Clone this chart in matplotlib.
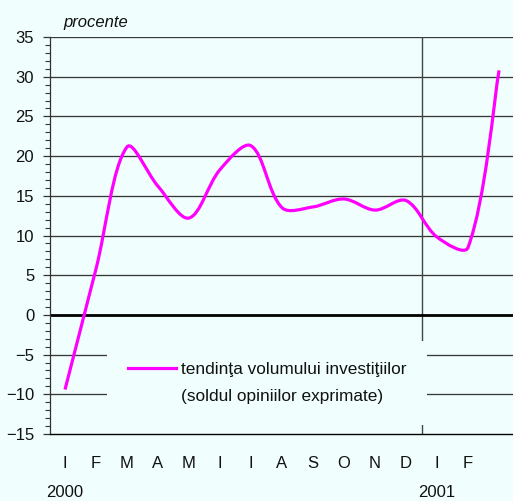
import matplotlib
matplotlib.use("Agg")
import matplotlib.pyplot as plt
import numpy as np
from matplotlib.path import Path
from matplotlib.patches import PathPatch
from matplotlib.lines import Line2D

plt.rcParams['font.family'] = ['Liberation Sans', 'DejaVu Sans']

# ---- data ----
month_labels = ["I", "F", "M", "A", "M", "I", "I", "A", "S", "O", "N", "D", "I", "F"]
year_labels = ["2000", "2001"]
year_positions = [0, 12]
values = [-9.4, 5.8, 21.15, 16.2, 12.2, 18.3, 21.3, 13.5, 13.6, 14.6, 13.2, 14.4, 9.8, 8.5, 30.8]
series_label_1 = "tendinţa volumului investiţiilor"
series_label_2 = "(soldul opiniilor exprimate)"
y_ticks = [-15, -10, -5, 0, 5, 10, 15, 20, 25, 30, 35]

BG = '#F0FFFD'
MAG = '#FF00FF'

fig = plt.figure(figsize=(5.13, 5.01), dpi=100, facecolor=BG)
ax = fig.add_axes([49.5/513, 1-434/501, 1-49.5/513, 397/501])
ax.set_facecolor(BG)
ax.set_xlim(-0.5, 14.45)
ax.set_ylim(-15, 35)

# smooth curve (Excel-like Bezier smoothing) through monthly points
x = np.arange(len(values), dtype=float)
y = np.array(values, dtype=float)
sx, sy = 31.0, 7.94  # pixel scale for segment lengths
P = np.column_stack([x, y])
n = len(P)
d = np.hypot(np.diff(x) * sx, np.diff(y) * sy)
s = 1.0 / 3.0
cplus = np.zeros_like(P)
cminus = np.zeros_like(P)
for i in range(n):
    if i == 0:
        T = P[1] - P[0]
        cplus[i] = P[i] + T * s * 0.5
        cminus[i] = P[i]
    elif i == n - 1:
        T = P[-1] - P[-2]
        cminus[i] = P[i] - T * s * 0.5
        cplus[i] = P[i]
    else:
        T = P[i + 1] - P[i - 1]
        tot = d[i - 1] + d[i]
        cplus[i] = P[i] + T * s * d[i] / tot
        cminus[i] = P[i] - T * s * d[i - 1] / tot
verts = [tuple(P[0])]
codes = [Path.MOVETO]
for i in range(n - 1):
    verts += [tuple(cplus[i]), tuple(cminus[i + 1]), tuple(P[i + 1])]
    codes += [Path.CURVE4] * 3
patch = PathPatch(Path(verts, codes), facecolor='none', edgecolor=MAG, lw=2.3,
                  transform=ax.transData, zorder=4, capstyle='butt')
ax.add_patch(patch)

# grid and reference lines
for v in y_ticks:
    if v not in (0, -15):
        ax.axhline(v, color='#383838', lw=0.95, zorder=1)
ax.axhline(0, color='black', lw=2.0, zorder=2)
ax.axvline(11.5, color='#444444', lw=1.0, zorder=1)

for side in ['top', 'right']:
    ax.spines[side].set_visible(False)
ax.spines['left'].set_color('#333333')
ax.spines['left'].set_linewidth(0.9)
ax.spines['bottom'].set_color('black')
ax.spines['bottom'].set_linewidth(1.0)

ax.set_yticks(y_ticks)
ax.set_yticklabels([("\u2212" + str(-v)) if v < 0 else str(v) for v in y_ticks])
ax.set_yticks(np.arange(-15, 36, 1), minor=True)
ax.tick_params(axis='y', which='major', length=5, width=0.9, color='#333333',
               labelsize=12, pad=6, labelcolor='#111111')
ax.tick_params(axis='y', which='minor', length=3.5, width=0.8, color='#333333')

ax.xaxis.remove_overlapping_locs = False
ax.set_xticks(np.arange(len(month_labels)))
ax.set_xticklabels(month_labels)
ax.set_xticks(year_positions, minor=True)
ax.set_xticklabels(year_labels, minor=True)
ax.tick_params(axis='x', which='major', length=0, labelsize=12, pad=16, labelcolor='#111111')
ax.tick_params(axis='x', which='minor', length=0, labelsize=12, pad=37, labelcolor='#111111')

ax.text(0.029, 1.0252, "procente", transform=ax.transAxes, fontsize=12,
        style='italic', va='baseline', ha='left', color='#111111')

handles = [Line2D([], [], color=MAG, lw=2.3), Line2D([], [], color='none', lw=0)]
leg = ax.legend(handles, [series_label_1, series_label_2], loc='upper left',
                bbox_to_anchor=((107-49.5)/463.5, (434-341)/397), borderaxespad=0,
                frameon=True, fancybox=False, facecolor=BG, edgecolor='none', framealpha=1,
                fontsize=12.4, handlelength=2.8, handletextpad=0.3, borderpad=1.2,
                labelspacing=0.7)
leg.set_zorder(5)
for t in leg.get_texts():
    t.set_color('#111111')

fig.savefig("out.png", dpi=100, facecolor=BG)
